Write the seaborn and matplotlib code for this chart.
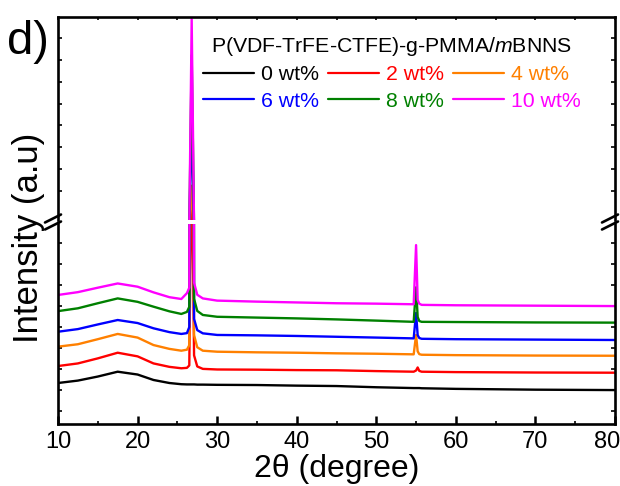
import numpy as np
import pandas as pd
import matplotlib
matplotlib.use('Agg')
import matplotlib.pyplot as plt
from matplotlib.lines import Line2D
from matplotlib.ticker import MultipleLocator, FixedLocator
import matplotlib.transforms as mtrans
import seaborn as sns

# 2theta grid (degree) and intensities (a.u.)
two_theta = [10, 12.5, 15, 17.5, 20, 22, 24, 25.5, 26.2, 26.5, 26.8, 27.1, 27.5, 28.2,
             30, 35, 40, 45, 50, 54.7, 55.0, 55.2, 55.4, 55.7, 60, 70, 80]

labels = ['0 wt%', '2 wt%', '4 wt%', '6 wt%', '8 wt%', '10 wt%']
colors = ['black', 'red', '#ff8000', 'blue', '#008000', '#ff00ff']

int_0 = [20.3, 21.5, 23.5, 25.9, 24.5, 21.8, 20.3, 19.7, 19.6, 19.6, 19.6, 19.6, 19.5, 19.5,
         19.4, 19.3, 19.0, 18.8, 18.2, 17.8, 17.8, 17.8, 17.8, 17.7, 17.4, 17.0, 16.8]
int_2 = [28.7, 30.0, 32.5, 35.3, 33.5, 30.0, 28.3, 27.6, 27.8, 29.0, 140, 34.0, 28.5, 27.3,
         27.0, 26.9, 26.7, 26.6, 26.2, 25.9, 26.5, 28.0, 26.3, 25.9, 25.7, 25.5, 25.4]
int_4 = [38.3, 39.5, 42.0, 44.6, 42.8, 39.1, 37.2, 36.3, 36.8, 39.0, 250, 44.0, 38.0, 36.3,
         35.8, 35.5, 35.3, 35.0, 34.8, 34.5, 44.1, 36.0, 34.6, 34.3, 34.1, 33.9, 33.8]
int_6 = [45.7, 47.0, 49.3, 51.5, 50.0, 47.4, 45.5, 44.6, 45.0, 48.0, 570, 52.0, 46.5, 44.9,
         44.1, 43.9, 43.6, 43.2, 42.8, 42.4, 55.0, 44.0, 42.6, 42.2, 42.0, 41.8, 41.6]
int_8 = [55.9, 57.3, 59.8, 62.2, 60.5, 58.1, 55.8, 54.5, 55.5, 58.0, 830, 62.0, 56.0, 54.0,
         53.1, 52.7, 52.3, 51.8, 51.2, 50.6, 67.7, 53.0, 51.0, 50.6, 50.5, 50.3, 50.2]
int_10 = [63.9, 65.3, 67.5, 69.6, 68.0, 65.2, 62.8, 61.9, 64.8, 67.5, 990, 70.0, 64.0, 62.2,
          61.1, 60.6, 60.2, 59.8, 59.6, 59.3, 88.6, 61.5, 59.6, 59.0, 58.8, 58.6, 58.4]
series = [int_0, int_2, int_4, int_6, int_8, int_10]

df = pd.concat([pd.DataFrame({'two_theta': two_theta, 'intensity': s, 'sample': lab})
                for lab, s in zip(labels, series)], ignore_index=True)

sns.set_style('ticks')
plt.rcParams['font.family'] = ['Liberation Sans', 'DejaVu Sans']
plt.rcParams['mathtext.fontset'] = 'custom'
plt.rcParams['mathtext.it'] = 'Liberation Sans:italic'
plt.rcParams['mathtext.rm'] = 'Liberation Sans'
for key in ('text.color', 'axes.labelcolor', 'xtick.color', 'ytick.color', 'axes.edgecolor'):
    plt.rcParams[key] = 'black'

fig = plt.figure(figsize=(6.2, 4.86), dpi=100)
W, H = 620.0, 486.0
ax_lo = fig.add_axes([58 / W, 1 - 424 / H, 557 / W, (424 - 224.5) / H])
ax_hi = fig.add_axes([58 / W, 1 - 219.5 / H, 557 / W, (219.5 - 17) / H])

for ax in (ax_lo, ax_hi):
    sns.lineplot(data=df, x='two_theta', y='intensity', hue='sample', hue_order=labels,
                 palette=colors, estimator=None, lw=1.7, legend=False, ax=ax)
    ax.set_xlim(10, 80)
    ax.set_xlabel('')
    ax.set_ylabel('')
    for sp in ax.spines.values():
        sp.set_linewidth(1.9)
        sp.set_color('black')
    ax.tick_params(axis='y', which='both', direction='in', left=True, right=True,
                   labelleft=False, length=3, width=1.2)

ax_lo.set_ylim(0, 98.8)
ax_hi.set_ylim(100, 1000)
ax_lo.spines['top'].set_visible(False)
ax_hi.spines['bottom'].set_visible(False)

ax_lo.yaxis.set_major_locator(FixedLocator(np.arange(6.4, 98, 10.4)))
ax_hi.yaxis.set_major_locator(FixedLocator(np.arange(227, 1000, 97)))

ax_lo.set_xticks(np.arange(10, 81, 10))
ax_lo.xaxis.set_minor_locator(MultipleLocator(5))
ax_lo.tick_params(axis='x', which='major', direction='in', length=6, width=1.8,
                  labelsize=17, pad=5, top=False)
ax_lo.tick_params(axis='x', which='minor', direction='in', length=2.5, width=1.2, top=False)

ax_hi.xaxis.set_major_locator(MultipleLocator(5))
ax_hi.tick_params(axis='x', which='both', direction='in', bottom=False, top=True,
                  labelbottom=False, length=2.5, width=1.2)

ax_lo.set_xlabel('2θ (degree)', fontsize=23, labelpad=1)
fig.text(29 / W, 1 - 238 / H, 'Intensity (a.u)', rotation=90, fontsize=25,
         ha='center', va='center')
fig.text(7 / W, 1 - 42 / H, 'd)', fontsize=34, ha='left', va='center')

# keep the "80" tick label inside the figure
last = ax_lo.get_xticklabels()[-1]
last.set_ha('right')
last.set_transform(last.get_transform() + mtrans.ScaledTranslation(0.05, 0, fig.dpi_scale_trans))

# break marks on both side spines
for xs in (58, 615):
    for yc in (218.5, 225.5):
        fig.add_artist(Line2D([(xs - 13) / W, (xs + 3) / W],
                              [1 - (yc + 4) / H, 1 - (yc - 4) / H],
                              color='black', lw=1.9, transform=fig.transFigure))

order = [0, 3, 1, 4, 2, 5]
handles = [Line2D([], [], color=colors[i], lw=1.6) for i in order]
leg = ax_hi.legend(handles, [labels[i] for i in order], ncol=3, loc='upper right',
                   bbox_to_anchor=(0.958, 0.965), frameon=False, fontsize=15.3,
                   title='P(VDF-TrFE-CTFE)-g-PMMA/$m$BNNS', title_fontsize=15.3,
                   handlelength=2.4, handletextpad=0.35, columnspacing=0.4,
                   labelspacing=0.35, borderpad=0)
for txt, i in zip(leg.get_texts(), order):
    txt.set_color(colors[i])
leg.get_title().set_color('black')

fig.savefig('out.png', dpi=100)
